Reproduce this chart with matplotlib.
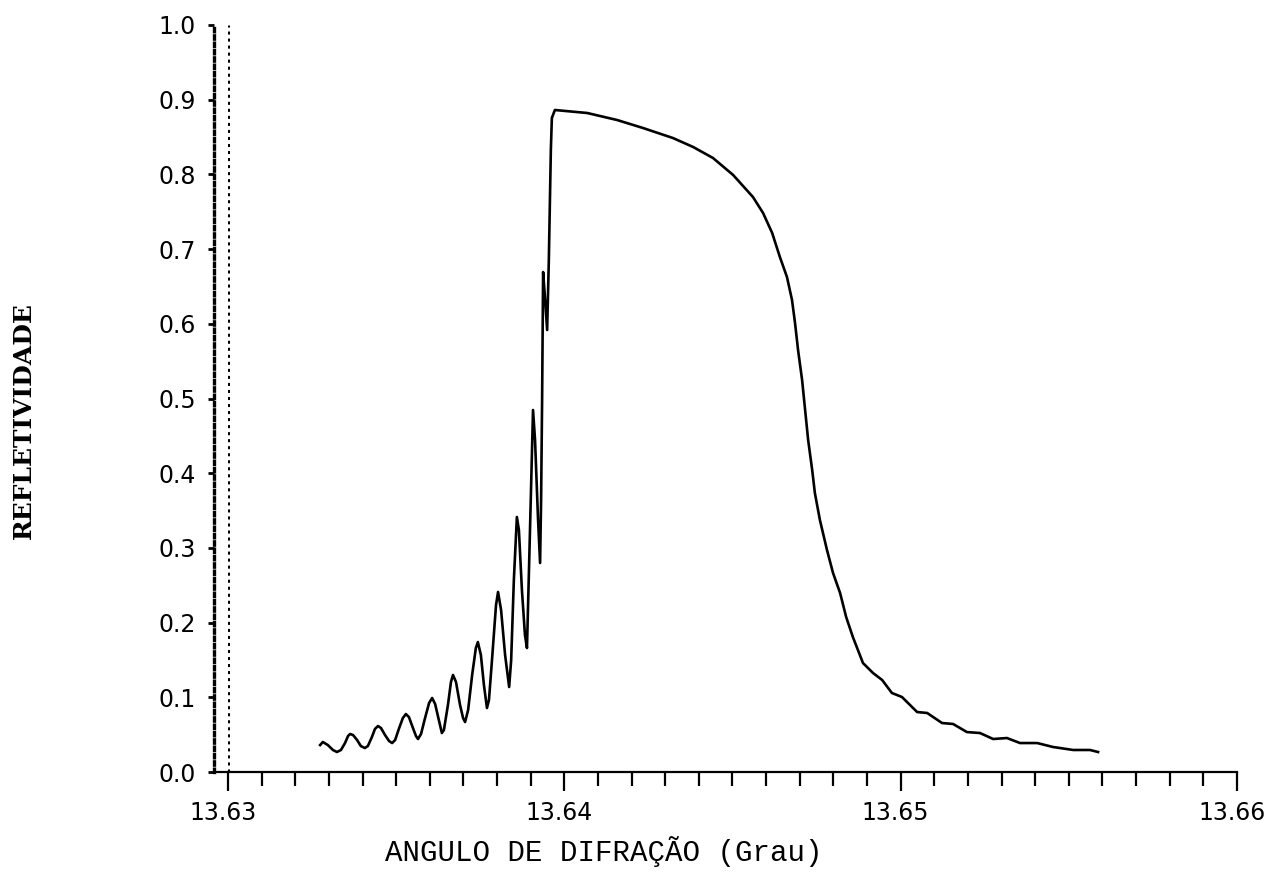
import matplotlib
matplotlib.use("Agg")
import matplotlib.pyplot as plt
import matplotlib.transforms as mtransforms
from matplotlib.ticker import MultipleLocator, FormatStrFormatter

# angle (degrees) and reflectivity
# oscillating low-angle side
angle_osc = [
    13.63274, 13.63282, 13.63297, 13.63312, 13.63324, 13.63336, 13.63348, 13.63357,
    13.63363, 13.63372, 13.63384, 13.63395, 13.63407, 13.63416, 13.63428, 13.63437,
    13.63446, 13.63455, 13.63467, 13.63479, 13.63488, 13.63497, 13.63508, 13.63520,
    13.63529, 13.63538, 13.63550, 13.63559, 13.63565, 13.63574, 13.63586, 13.63598,
    13.63607, 13.63616, 13.63627, 13.63636, 13.63642, 13.63654, 13.63663, 13.63669,
    13.63678, 13.63690, 13.63699, 13.63705, 13.63714, 13.63726, 13.63737, 13.63743,
    13.63752, 13.63761, 13.63770, 13.63776, 13.63785, 13.63797, 13.63803, 13.63812,
    13.63824, 13.63836, 13.63842, 13.63850, 13.63859, 13.63865, 13.63874, 13.63883,
    13.63889, 13.63898, 13.63907, 13.63913, 13.63922, 13.63928, 13.63931, 13.63934,
    13.63937, 13.63943, 13.63949, 13.63954, 13.63960, 13.63963, 13.63972,
]
refl_osc = [
    0.0361, 0.0402, 0.0361, 0.0295, 0.0268, 0.0295, 0.0388, 0.0482,
    0.0509, 0.0495, 0.0428, 0.0348, 0.0321, 0.0348, 0.0469, 0.0576,
    0.0616, 0.0589, 0.0495, 0.0415, 0.0388, 0.0428, 0.0576, 0.0723,
    0.0776, 0.0736, 0.0589, 0.0482, 0.0442, 0.0509, 0.0723, 0.0924,
    0.0991, 0.0910, 0.0696, 0.0522, 0.0562, 0.0897, 0.1205, 0.1299,
    0.1205, 0.0897, 0.0723, 0.0669, 0.0830, 0.1299, 0.1660, 0.1740,
    0.1566, 0.1165, 0.0857, 0.0964, 0.1499, 0.2236, 0.2410, 0.2169,
    0.1566, 0.1138, 0.1499, 0.2570, 0.3414, 0.3240, 0.2436, 0.1834,
    0.1660, 0.3240, 0.4846, 0.4444, 0.3373, 0.2798, 0.3641, 0.4980,
    0.6693, 0.6319, 0.5917, 0.6854, 0.8327, 0.8755, 0.8862,
]
# plateau and high-angle tail
angle_tail = [
    13.64068, 13.64157, 13.64234, 13.64323, 13.64383, 13.64442, 13.64502,
    13.64561, 13.64591, 13.64618, 13.64641, 13.64662, 13.64677, 13.64686, 13.64695,
    13.64707, 13.64716, 13.64725, 13.64737, 13.64745, 13.64760, 13.64781, 13.64799,
    13.64820, 13.64838, 13.64858, 13.64888, 13.64918, 13.64945, 13.64974, 13.65004,
    13.65049, 13.65079, 13.65123, 13.65156, 13.65197, 13.65236, 13.65275, 13.65316,
    13.65355, 13.65406, 13.65453, 13.65513, 13.65563, 13.65587,
]
refl_tail = [
    0.8822, 0.8728, 0.8621, 0.8487, 0.8367, 0.8220, 0.7992,
    0.7697, 0.7483, 0.7216, 0.6894, 0.6627, 0.6319, 0.6011, 0.5649,
    0.5248, 0.4846, 0.4444, 0.4043, 0.3735, 0.3373, 0.2972, 0.2664,
    0.2396, 0.2075, 0.1807, 0.1459, 0.1325, 0.1232, 0.1058, 0.1004,
    0.0803, 0.0790, 0.0656, 0.0643, 0.0535, 0.0522, 0.0442, 0.0455,
    0.0388, 0.0388, 0.0335, 0.0295, 0.0295, 0.0268,
]

angle = angle_osc + angle_tail
refl = refl_osc + refl_tail

fig = plt.figure(figsize=(12.7, 8.77), dpi=100)
ax = fig.add_axes([0.1795, 0.1197, 0.7945, 0.8518])

ax.plot(angle, refl, color="black", lw=1.9, solid_joinstyle="round")

ax.set_xlim(13.63, 13.66)
ax.set_ylim(0.0, 1.0)

ax.xaxis.set_major_locator(MultipleLocator(0.01))
ax.xaxis.set_minor_locator(MultipleLocator(0.001))
ax.xaxis.set_major_formatter(FormatStrFormatter("%.2f"))
ax.yaxis.set_major_locator(MultipleLocator(0.1))
ax.yaxis.set_major_formatter(FormatStrFormatter("%.1f"))

ax.spines["top"].set_visible(False)
ax.spines["right"].set_visible(False)
ax.spines["bottom"].set_linewidth(1.6)
# dotted double y axis as in the scan
ax.spines["left"].set_position(("outward", 10))
ax.spines["left"].set_linestyle((0, (1, 1.2)))
ax.spines["left"].set_linewidth(2.4)
ax.axvline(13.63, color="black", lw=2.2, ls=(0, (1, 1.3)))
# x axis line runs on to the outer y axis
ax.plot([-0.014, 0], [0, 0], transform=ax.transAxes, color="black",
        lw=1.6, clip_on=False)

ax.tick_params(axis="x", which="major", direction="out", length=14, width=1.6,
               pad=7, labelsize=17)
ax.tick_params(axis="x", which="minor", direction="out", length=10, width=1.6)
ax.tick_params(axis="y", which="major", direction="out", length=4, width=2,
               pad=9, labelsize=17)

shift = mtransforms.ScaledTranslation(-5 / 100, 0, fig.dpi_scale_trans)
for lab in ax.get_xticklabels():
    lab.set_transform(lab.get_transform() + shift)

ax.set_xlabel("ANGULO DE DIFRAÇÃO (Grau)", family="Liberation Mono", fontsize=21)
ax.xaxis.set_label_coords(0.372, -0.119)
ax.xaxis.label.set_verticalalignment("baseline")
ax.set_ylabel("REFLETIVIDADE", family="DejaVu Serif", fontweight="bold",
              fontsize=18)
ax.yaxis.set_label_coords(-0.19, 0.47)

fig.savefig("out.png", dpi=100)
